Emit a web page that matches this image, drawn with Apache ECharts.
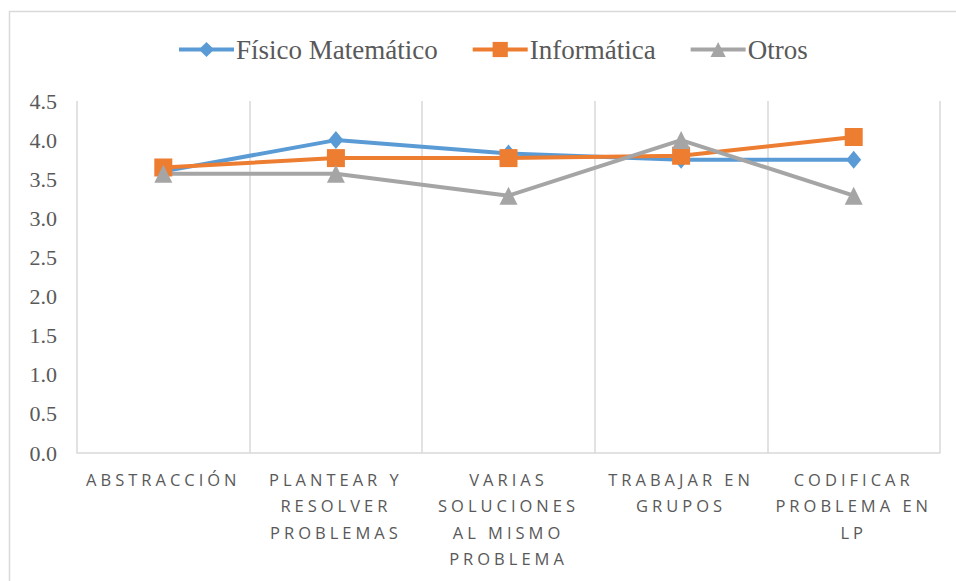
<!DOCTYPE html>
<html><head><meta charset="utf-8">
<script src="https://cdn.jsdelivr.net/npm/echarts@6/dist/echarts.min.js"></script>
<style>
html,body{margin:0;padding:0;background:#fff;}
#main{width:956px;height:581px;}
#main text[style*="Open Sans"]{letter-spacing:4px;}
</style></head>
<body><div id="main"></div>
<script>
const categories = ["ABSTRACCIÓN", "PLANTEAR Y\nRESOLVER\nPROBLEMAS", "VARIAS\nSOLUCIONES\nAL MISMO\nPROBLEMA", "TRABAJAR EN\nGRUPOS", "CODIFICAR\nPROBLEMA EN\nLP"];
const fisico = [3.6, 4.0, 3.83, 3.75, 3.75];
const informatica = [3.65, 3.77, 3.77, 3.8, 4.04];
const otros = [3.57, 3.57, 3.29, 4.0, 3.29];
const seriesNames = ["Físico Matemático", "Informática", "Otros"];

const chart = echarts.init(document.getElementById('main'), null, {renderer: 'svg'});
const grey = '#d9d9d9';
function mk(name, data, color, symbol, size) {
  return {
    name, type: 'line', data, symbol, symbolSize: size,
    lineStyle: {width: 4, color}, itemStyle: {color},
    animation: false
  };
}
chart.setOption({
  animation: false,
  graphic: [{type: 'rect', shape: {x: 9.5, y: 11.5, width: 1200, height: 1200},
    style: {fill: 'none', stroke: grey, lineWidth: 1.5}, silent: true}],
  legend: {
    top: 31, left: 172,
    itemWidth: 55, itemHeight: 19, itemGap: 33,
    lineStyle: {width: 4},
    textStyle: {fontFamily: 'Liberation Serif', fontSize: 27, color: '#595959', padding: [0,0,0,-3]},
    data: seriesNames
  },
  grid: {left: 77, right: 16, top: 101, bottom: 128},
  xAxis: {
    type: 'category', data: categories, boundaryGap: true,
    axisLine: {show: true, lineStyle: {color: grey, width: 1.5}},
    axisTick: {show: false},
    splitLine: {show: true, lineStyle: {color: grey, width: 1.5}},
    axisLabel: {interval: 0, margin: 13, fontFamily: 'Open Sans', fontSize: 16.5, lineHeight: 26.5, color: '#595959'}
  },
  yAxis: {
    type: 'value', min: 0, max: 4.5, interval: 0.5,
    axisLine: {show: false}, axisTick: {show: false}, splitLine: {show: false},
    axisLabel: {fontFamily: 'Liberation Serif', fontSize: 22, color: '#595959', margin: 20,
      formatter: v => v.toFixed(1)}
  },
  series: [
    mk(seriesNames[0], fisico, '#5B9BD5', 'diamond', [15, 18]),
    mk(seriesNames[1], informatica, '#ED7D31', 'rect', 18),
    mk(seriesNames[2], otros, '#A5A5A5', 'triangle', 18)
  ]
});
</script></body></html>
